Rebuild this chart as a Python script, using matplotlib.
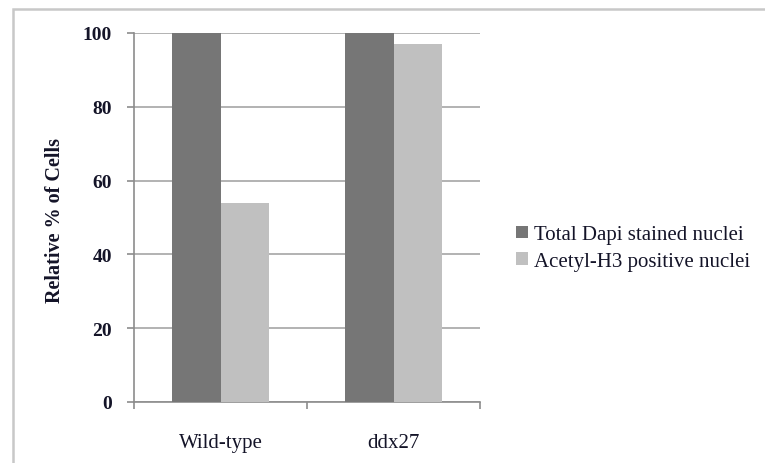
import numpy as np
import matplotlib.pyplot as plt
from matplotlib.patches import Rectangle

# Data
categories = ["Wild-type", "ddx27"]
total_dapi = [100, 100]
acetyl_h3 = [54, 97]
series_names = ["Total Dapi stained nuclei", "Acetyl-H3 positive nuclei"]
y_ticks = [0, 20, 40, 60, 80, 100]

plt.rcParams["font.family"] = ["Liberation Serif", "DejaVu Serif"]
text_color = "#141428"

fig = plt.figure(figsize=(7.65, 4.64), dpi=100)
ax = fig.add_axes([0.1752, 0.1315, 0.4523, 0.7953])

x = np.arange(len(categories))
w = 0.283
ax.bar(x - w / 2, total_dapi, w, color="#767676", label=series_names[0], zorder=3)
ax.bar(x + w / 2, acetyl_h3, w, color="#c0c0c0", label=series_names[1], zorder=3)

ax.set_xlim(-0.5, len(categories) - 0.5)
ax.set_ylim(0, 100)
ax.set_yticks(y_ticks)
ax.set_yticklabels([str(t) for t in y_ticks], fontsize=14, fontweight="bold", color=text_color)
ax.yaxis.grid(True, color="#a6a6a6", linewidth=1.2, zorder=0)
ax.set_axisbelow(True)

# boundary ticks on x, labels in the middle of each category
ax.set_xticks(np.arange(len(categories) + 1) - 0.5)
ax.set_xticklabels([])
ax.set_xticks(x, minor=True)
ax.set_xticklabels(categories, minor=True, fontsize=15, color=text_color)
ax.tick_params(axis="x", which="minor", length=0, pad=22)
ax.tick_params(axis="x", which="major", length=5, color="#8c8c8c", width=1.2, direction="out")
ax.tick_params(axis="y", length=5, color="#8c8c8c", width=1.2, pad=11)

for side in ["top", "right"]:
    ax.spines[side].set_visible(False)
for side in ["left", "bottom"]:
    ax.spines[side].set_color("#8c8c8c")
    ax.spines[side].set_linewidth(1.2)

fig.text(0.072, 0.525, "Relative % of Cells", rotation=90, ha="center", va="center",
         fontsize=14.5, fontweight="bold", color=text_color)

ax.legend(loc="center left", bbox_to_anchor=(0.661, 0.463), bbox_transform=fig.transFigure,
          frameon=False, fontsize=15, handlelength=0.55, handleheight=0.55,
          handletextpad=0.3, labelspacing=0.37, borderpad=0, labelcolor=text_color)

# outer chart border, runs off the right and bottom edges
fig.patches.append(Rectangle((13 / 765, -0.1), 1.2, (454 / 464) + 0.1,
                             transform=fig.transFigure, fill=False,
                             edgecolor="#c8c8c8", linewidth=1.8))

fig.savefig("out.png", dpi=100)
